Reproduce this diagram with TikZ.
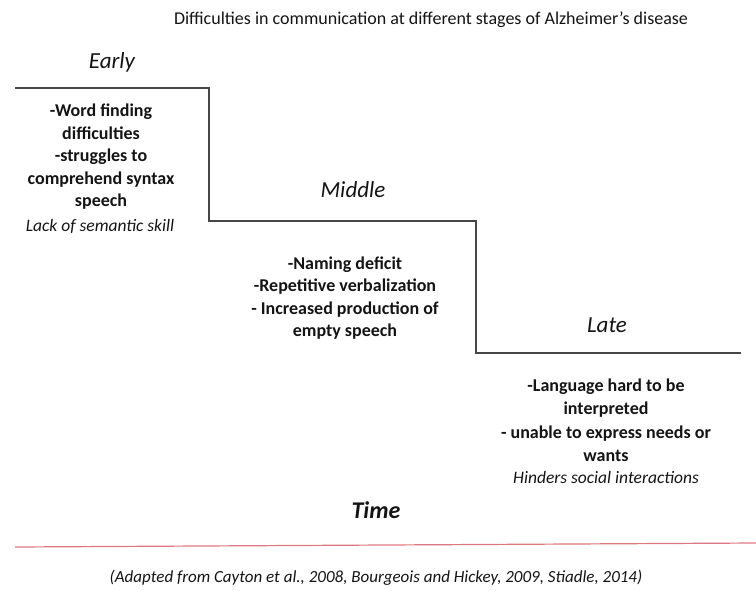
\documentclass[tikz,border=0pt]{standalone}
\usepackage{fontspec}
\setmainfont{Carlito}
\definecolor{stepgray}{RGB}{70,70,70}
\definecolor{axisred}{RGB}{222,120,128}
\definecolor{txt}{RGB}{20,20,20}
\begin{document}
\begin{tikzpicture}[x=1pt,y=-1pt,
  stage/.style={font=\fontsize{23}{25}\selectfont\itshape, text=txt, inner sep=0pt},
  body/.style={font=\fontsize{18}{22.5}\selectfont\bfseries, text=txt, align=center, inner sep=0pt},
  note/.style={font=\fontsize{17.5}{20}\selectfont\itshape, text=txt, inner sep=0pt},
  steplines/.style={draw=stepgray, line width=1.3pt}]
\useasboundingbox (0,0) rectangle (756,590);
\node[font=\fontsize{18}{20}\selectfont, text=txt, inner sep=0pt] (title) at (431,20) {Difficulties in communication at different stages of Alzheimer’s disease};
\node[stage] (early) at (112,62) {Early};
\node[stage] (middle) at (353,190) {Middle};
\node[stage] (late) at (607,325) {Late};
\coordinate (p0) at (15,88);
\coordinate (p1) at (209,88);
\coordinate (p2) at (209,221);
\coordinate (p3) at (476,221);
\coordinate (p4) at (476,353);
\coordinate (p5) at (741,353);
\draw[steplines] (p0) -- (p1) -- (p2) -- (p3) -- (p4) -- (p5);
\node[body] (etext) at (101,157) {-Word finding\\difficulties\\-struggles to\\comprehend syntax\\speech};
\node[note] (esem) at (100,226) {Lack of semantic skill};
\node[body] (mtext) at (345,298) {-Naming deficit\\-Repetitive verbalization\\- Increased production of\\empty speech};
\node[body, font=\fontsize{18}{23.5}\selectfont\bfseries] (ltext) at (606,420) {-Language hard to be\\interpreted\\- unable to express needs or\\wants};
\node[note] (lsoc) at (606,477) {Hinders social interactions};
\node[font=\fontsize{24}{26}\selectfont\bfseries\itshape, text=txt, inner sep=0pt] (time) at (376,510) {Time};
\coordinate (a0) at (15,547);
\coordinate (a1) at (756,543);
\draw[axisred, line width=1.2pt] (a0) -- (a1);
\node[font=\fontsize{17}{19}\selectfont\itshape, text=txt, inner sep=0pt] (cite) at (376,578) {(Adapted from Cayton et al., 2008, Bourgeois and Hickey, 2009, Stiadle, 2014)};
\end{tikzpicture}
\end{document}
